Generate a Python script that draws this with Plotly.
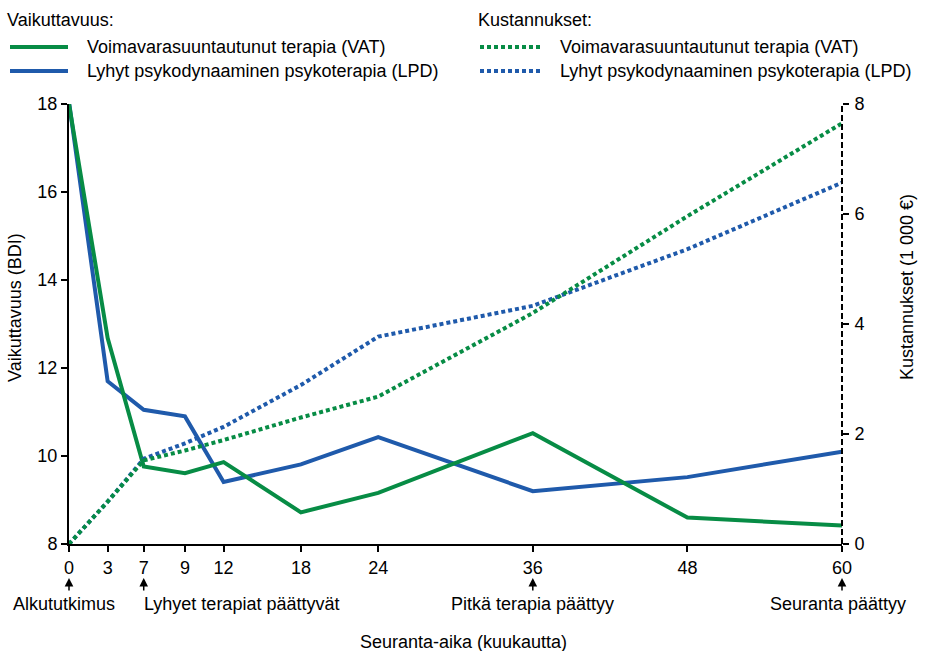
import plotly.graph_objects as go

# ---- data ----
month_labels = ["0", "3", "7", "9", "12", "18", "24", "36", "48", "60"]
# horizontal placement of each measurement point on the original's time axis
month_pos = [0, 3, 5.8, 9, 12, 18, 24, 36, 48, 60]

bdi_vat = [18.0, 12.68, 9.76, 9.61, 9.86, 8.72, 9.16, 10.52, 8.60, 8.42]
bdi_lpd = [18.05, 11.70, 11.05, 10.90, 9.41, 9.81, 10.43, 9.20, 9.52, 10.10]

cost_vat = [0.0, 0.77, 1.52, 1.70, 1.89, 2.30, 2.68, 4.20, 5.96, 7.65]
cost_lpd = [0.0, 0.77, 1.55, 1.83, 2.13, 2.89, 3.77, 4.33, 5.36, 6.57]

series_names = ["Voimavarasuuntautunut terapia (VAT)", "Lyhyt psykodynaaminen psykoterapia (LPD)"]
event_months = [0, 7, 36, 60]
event_labels = ["Alkututkimus", "Lyhyet terapiat päättyvät", "Pitkä terapia päättyy", "Seuranta päättyy"]

GREEN = "#078c45"
BLUE = "#1f5aab"
FONT = "Liberation Sans, Arial, sans-serif"
FS = 18

W, H = 928, 651
L, R, T, B = 69, 86, 104, 107
PW, PH = W - L - R, H - T - B


def px_x(px):
    return (px - L) / PW


def px_y(py):
    return (H - B - py) / PH


pos_of = dict(zip(month_labels, month_pos))

fig = go.Figure()
fig.add_trace(go.Scatter(x=month_pos, y=bdi_lpd, mode="lines", name=series_names[1],
                         line=dict(color=BLUE, width=4), cliponaxis=False, showlegend=False))
fig.add_trace(go.Scatter(x=month_pos, y=bdi_vat, mode="lines", name=series_names[0],
                         line=dict(color=GREEN, width=4), cliponaxis=False, showlegend=False))
fig.add_trace(go.Scatter(x=month_pos, y=cost_lpd, mode="lines", name=series_names[1], yaxis="y2",
                         line=dict(color=BLUE, width=4, dash="4px,3px"), cliponaxis=False, showlegend=False))
fig.add_trace(go.Scatter(x=month_pos, y=cost_vat, mode="lines", name=series_names[0], yaxis="y2",
                         line=dict(color=GREEN, width=4, dash="4px,3px"), cliponaxis=False, showlegend=False))

shapes = []
annotations = []

# right dashed axis line
shapes.append(dict(type="line", xref="paper", yref="paper", x0=1, x1=1, y0=0, y1=1,
                   line=dict(color="black", width=2, dash="6px,3px")))

# legend (manual)
annotations.append(dict(xref="paper", yref="paper", x=px_x(5), y=px_y(20), xanchor="left", yanchor="middle",
                        text="Vaikuttavuus:", showarrow=False, font=dict(size=FS)))
annotations.append(dict(xref="paper", yref="paper", x=px_x(476), y=px_y(20), xanchor="left", yanchor="middle",
                        text="Kustannukset:", showarrow=False, font=dict(size=FS)))
for i, (col, name) in enumerate(zip([GREEN, BLUE], series_names)):
    yy = 47 + i * 24
    shapes.append(dict(type="line", xref="paper", yref="paper", x0=px_x(10), x1=px_x(68),
                       y0=px_y(yy), y1=px_y(yy), line=dict(color=col, width=4)))
    shapes.append(dict(type="line", xref="paper", yref="paper", x0=px_x(480), x1=px_x(543),
                       y0=px_y(yy), y1=px_y(yy), line=dict(color=col, width=4, dash="4px,3px")))
    annotations.append(dict(xref="paper", yref="paper", x=px_x(85), y=px_y(yy), xanchor="left",
                            yanchor="middle", text=name, showarrow=False, font=dict(size=FS)))
    annotations.append(dict(xref="paper", yref="paper", x=px_x(558), y=px_y(yy), xanchor="left",
                            yanchor="middle", text=name, showarrow=False, font=dict(size=FS)))

# event arrows and labels
for m, lab in zip(event_months, event_labels):
    xp = pos_of[str(m)]
    annotations.append(dict(x=xp, xref="x", y=px_y(578), yref="paper", text="", showarrow=True,
                            ax=0, ay=14, arrowhead=2, arrowsize=1.15, arrowwidth=1.5, arrowcolor="black"))
    anchor = "left" if m == 7 else "center"
    annotations.append(dict(x=xp, xref="x", y=px_y(604), yref="paper", text=lab, showarrow=False,
                            xanchor=anchor, yanchor="middle", font=dict(size=FS),
                            xshift=(-5 if m == 0 else (-2 if m == 7 else (-4 if m == 60 else 0)))))

# axis titles
annotations.append(dict(xref="paper", yref="paper", x=px_x(463), y=px_y(642), text="Seuranta-aika (kuukautta)",
                        showarrow=False, xanchor="center", yanchor="middle", font=dict(size=FS)))
annotations.append(dict(xref="paper", yref="paper", x=px_x(15), y=px_y(308), text="Vaikuttavuus (BDI)",
                        showarrow=False, textangle=-90, xanchor="center", yanchor="middle", font=dict(size=FS)))
annotations.append(dict(xref="paper", yref="paper", x=px_x(907), y=px_y(287), text="Kustannukset (1 000 €)",
                        showarrow=False, textangle=-90, xanchor="center", yanchor="middle", font=dict(size=FS)))

fig.update_layout(
    width=W, height=H,
    margin=dict(l=L, r=R, t=T, b=B, pad=0),
    paper_bgcolor="white", plot_bgcolor="white",
    font=dict(family=FONT, size=FS, color="black"),
    showlegend=False,
    xaxis=dict(range=[0, 60], tickvals=month_pos, ticktext=month_labels, showgrid=False, zeroline=False,
               showline=True, linecolor="black", linewidth=2, ticks="outside", ticklen=6, tickwidth=1.5,
               tickcolor="black", tickfont=dict(size=FS)),
    yaxis=dict(range=[8, 18], tickvals=[8, 10, 12, 14, 16, 18], showgrid=False, zeroline=False,
               showline=True, linecolor="black", linewidth=2, ticks="outside", ticklen=6, tickwidth=1.5,
               tickcolor="black", tickfont=dict(size=FS), ticklabelstandoff=0),
    yaxis2=dict(range=[0, 8], tickvals=[0, 2, 4, 6, 8], overlaying="y", side="right", showgrid=False,
                zeroline=False, showline=False, ticks="outside", ticklen=6, tickwidth=1.5, tickcolor="black",
                tickfont=dict(size=FS), ticklabelstandoff=2),
    shapes=shapes,
    annotations=annotations,
)

fig.write_html("out.html", config={"displayModeBar": False},
               post_script="document.body.style.margin='0';document.body.style.overflow='hidden';")
